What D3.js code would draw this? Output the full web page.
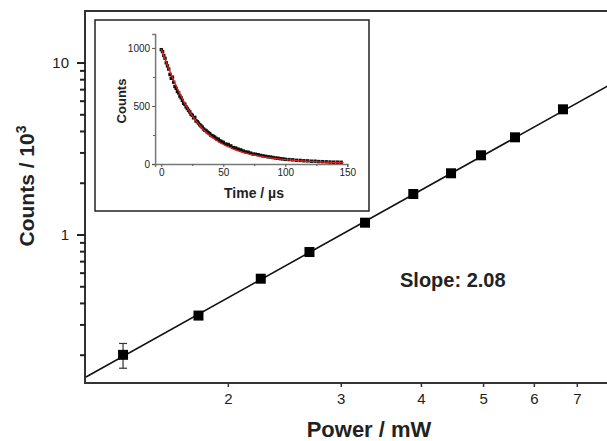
<!DOCTYPE html>
<html>
<head>
<meta charset="utf-8">
<script src="https://d3js.org/d3.v7.min.js"></script>
<style>
body { margin: 0; background: #fff; }
text { font-family: "Liberation Sans", Arial, Helvetica, sans-serif; }
</style>
</head>
<body>
<svg width="607" height="441"></svg>
<script>

// main plot: power (mW) vs counts (10^3), log-log
var power = [1.373, 1.800, 2.251, 2.681, 3.273, 3.892, 4.457, 4.963, 5.607, 6.661];
var counts = [0.201, 0.340, 0.557, 0.796, 1.179, 1.731, 2.285, 2.907, 3.698, 5.38];
var countsErr = [0.033, 0.016, 0.008, 0.010, 0.012, 0.018, 0.02, 0.025, 0.03, 0.04];
var fitLine = [[1.202, 0.1494], [8, 7.70]];
var xTicks = [2, 3, 4, 5, 6, 7];
var yMajor = [1, 10];
var yMinor = [0.2, 0.3, 0.4, 0.5, 0.6, 0.7, 0.8, 0.9, 2, 3, 4, 5, 6, 7, 8, 9];

// inset: decay trace (time in us, counts)
var decay = [[0,985],[1,968],[2,935],[3,910],[4,872],[5,845],[6,818],[7,772],[8,738],[9,748],[10,705],[11,668],[12,652],[13,625],[14,612],[15,585],[16,570],[17,548],[18,522],[19,515],[20,492],[21,478],[22,462],[23,448],[24,428],[25,420],[26,398],[27,402],[28,372],[29,365],[30,352],[31,338],[32,328],[33,318],[34,302],[35,292],[36,288],[37,276],[38,268],[39,262],[40,248],[41,243],[42,238],[43,232],[44,222],[45,212],[46,214],[47,200],[48,196],[49,188],[50,186],[52,172],[54,168],[56,156],[58,142],[60,138],[62,128],[64,122],[66,112],[68,104],[70,102],[72,94],[74,86],[76,84],[78,80],[80,74],[82,70],[84,66],[86,62],[88,60],[90,56],[92,52],[94,50],[96,46],[98,44],[100,40],[103,38],[106,36],[109,32],[112,31],[115,28],[118,27],[121,24],[124,24],[127,21],[130,20],[133,19],[136,17],[139,16],[142,16],[145,15]];
var decayFit = [[0,990],[5,850],[10,720],[15,605],[20,500],[25,415],[30,345],[35,285],[40,238],[45,200],[50,168],[55,142],[60,120],[65,102],[70,88],[75,76],[80,66],[90,50],[100,38],[110,29],[120,22],[130,17],[140,14],[147,12]];
var insetXTicks = [0, 50, 100, 150];
var insetXMinor = [25, 75, 125];
var insetYTicks = [0, 500, 1000];
var insetYMinor = [250, 750];

var svg = d3.select("svg");

var xScale = d3.scaleLog().domain([1.202, 8]).range([86, 614]);
var yScale = d3.scaleLog().domain([0.1397, 19.8]).range([382, 12]);

// frame
svg.append("rect").attr("x", 85).attr("y", 11).attr("width", 530).attr("height", 372)
    .style("fill", "none").style("stroke", "#333").style("stroke-width", 2);

// x axis
var xAxis = svg.append("g")
    .attr("transform", "translate(0,383)")
    .call(d3.axisBottom(xScale).tickValues(xTicks).tickFormat(d3.format("d")).tickSize(4).tickPadding(6));
xAxis.select(".domain").remove();
xAxis.selectAll("line").attr("stroke", "#333").attr("stroke-width", 1.5);
xAxis.selectAll("text").style("font-size", "15px").style("fill", "#222");

// y axis labels
var yAxis = svg.append("g")
    .attr("transform", "translate(85,0)")
    .call(d3.axisLeft(yScale).tickValues(yMajor).tickFormat(d3.format("d")).tickSize(0).tickPadding(16));
yAxis.select(".domain").remove();
yAxis.selectAll("text").style("font-size", "15px").style("fill", "#222");

// y tick marks (major + minor), small bars left of the frame
svg.append("g").selectAll("rect")
    .data(yMajor.concat(yMinor))
    .enter()
    .append("rect")
    .attr("x", function(d) { return yMajor.indexOf(d) >= 0 ? 77 : 80; })
    .attr("width", function(d) { return yMajor.indexOf(d) >= 0 ? 9 : 6; })
    .attr("y", function(d) { return yScale(d) - 1; })
    .attr("height", 2)
    .style("fill", "#222");

// axis titles
svg.append("text")
    .attr("x", 369).attr("y", 437)
    .attr("text-anchor", "middle")
    .style("font-size", "22px").style("font-weight", "bold").style("fill", "#222")
    .text("Power / mW");

var yTitle = svg.append("text")
    .attr("text-anchor", "middle")
    .attr("transform", "translate(34,186)rotate(-90)")
    .style("font-size", "21px").style("font-weight", "bold").style("fill", "#222");
yTitle.append("tspan").text("Counts / 10");
yTitle.append("tspan").attr("dy", -8).style("font-size", "14px").text("3");

// fit line
var line = d3.line()
    .x(function(d) { return xScale(d[0]); })
    .y(function(d) { return yScale(d[1]); });

svg.append("path")
    .datum(fitLine)
    .attr("d", line)
    .style("fill", "none").style("stroke", "#111").style("stroke-width", 1.6);

// error bars
var errs = svg.append("g").selectAll("g").data(power).enter().append("g");
errs.append("line")
    .attr("x1", function(d) { return xScale(d); })
    .attr("x2", function(d) { return xScale(d); })
    .attr("y1", function(d, i) { return yScale(counts[i] + countsErr[i]); })
    .attr("y2", function(d, i) { return yScale(counts[i] - countsErr[i]); })
    .attr("stroke", "#333").attr("stroke-width", 1.2);
errs.selectAll(".cap").data(function(d, i) { return [[d, counts[i] + countsErr[i]], [d, counts[i] - countsErr[i]]]; })
    .enter().append("line")
    .attr("x1", function(d) { return xScale(d[0]) - 4; })
    .attr("x2", function(d) { return xScale(d[0]) + 4; })
    .attr("y1", function(d) { return yScale(d[1]); })
    .attr("y2", function(d) { return yScale(d[1]); })
    .attr("stroke", "#333").attr("stroke-width", 1.2);

// squares
svg.append("g").selectAll("rect")
    .data(power)
    .enter()
    .append("rect")
    .attr("x", function(d) { return xScale(d) - 5; })
    .attr("y", function(d, i) { return yScale(counts[i]) - 5; })
    .attr("width", 10).attr("height", 10)
    .style("fill", "#000");

svg.append("text")
    .attr("x", 400).attr("y", 287)
    .style("font-size", "20px").style("font-weight", "bold").style("fill", "#222")
    .text("Slope: 2.08");

// ---- inset ----
svg.append("rect")
    .attr("x", 95).attr("y", 20).attr("width", 274).attr("height", 191)
    .style("fill", "#fff").style("stroke", "#222").style("stroke-width", 1.5);

var ix = d3.scaleLinear().domain([-5, 150]).range([155.1, 347.3]);
var iy = d3.scaleLinear().domain([0, 1120]).range([164, 34]);

var ixAxis = svg.append("g")
    .attr("transform", "translate(0,164)")
    .call(d3.axisBottom(ix).tickValues(insetXTicks).tickFormat(d3.format("d")).tickSize(3).tickPadding(2));
var ixMinor = svg.append("g")
    .attr("transform", "translate(0,164)")
    .call(d3.axisBottom(ix).tickValues(insetXMinor).tickFormat(function() { return ""; }).tickSize(2));
ixMinor.select(".domain").remove();

var iyAxis = svg.append("g")
    .attr("transform", "translate(155.1,0)")
    .call(d3.axisLeft(iy).tickValues(insetYTicks).tickFormat(d3.format("d")).tickSize(3).tickPadding(2));
var iyMinor = svg.append("g")
    .attr("transform", "translate(155.1,0)")
    .call(d3.axisLeft(iy).tickValues(insetYMinor).tickFormat(function() { return ""; }).tickSize(2));
iyMinor.select(".domain").remove();

[ixAxis, ixMinor, iyAxis, iyMinor].forEach(function(g) {
    g.select(".domain").attr("stroke", "#777").attr("stroke-width", 1.5);
    g.selectAll(".tick line").attr("stroke", "#555");
    g.selectAll("text").style("font-size", "10px").style("fill", "#222");
});

svg.append("g").selectAll("rect")
    .data(decay)
    .enter()
    .append("rect")
    .attr("x", function(d) { return ix(d[0]) - 1.7; })
    .attr("y", function(d) { return iy(d[1]) - 1.7; })
    .attr("width", 3.4).attr("height", 3.4)
    .style("fill", "#111");

svg.append("path")
    .datum(decayFit)
    .attr("d", d3.line().x(function(d) { return ix(d[0]); }).y(function(d) { return iy(d[1]); }).curve(d3.curveMonotoneX))
    .style("fill", "none").style("stroke", "#e0201a").style("stroke-width", 1.3);

svg.append("text")
    .attr("x", 254).attr("y", 198)
    .attr("text-anchor", "middle")
    .style("font-size", "14px").style("font-weight", "bold").style("fill", "#222")
    .text("Time / \u00b5s");

svg.append("text")
    .attr("text-anchor", "middle")
    .attr("transform", "translate(126,101)rotate(-90)")
    .style("font-size", "13px").style("font-weight", "bold").style("fill", "#222")
    .text("Counts");

</script>
</body>
</html>
